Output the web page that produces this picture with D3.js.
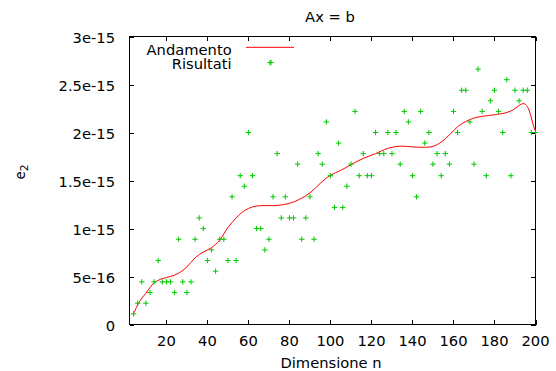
<!DOCTYPE html>
<html><head><meta charset="utf-8">
<script src="https://cdn.jsdelivr.net/npm/d3@7"></script>
<style>
body{margin:0;background:#fff}
svg{display:block}
text{font-family:"DejaVu Sans",sans-serif;fill:#000}
</style>
</head><body>
<svg id="c" width="556" height="371"></svg>
<script>
// ---- data (errors in units of 1e-15) ----
const nValues = [4,6,8,10,12,14,16,18,20,22,24,26,28,30,32,34,36,38,40,42,44,46,48,50,52,54,56,58,60,62,64,66,68,70,71,72,74,76,78,80,82,84,86,88,90,92,94,96,98,100,102,104,106,108,110,112,114,116,118,120,122,124,126,128,130,132,134,136,138,140,142,144,146,148,150,152,154,156,158,160,162,164,166,168,170,172,174,176,178,180,182,184,186,188,190,192,194,196,198,200];
const eValues = [0.111,0.222,0.444,0.222,0.333,0.444,0.666,0.444,0.444,0.444,0.333,0.888,0.444,0.333,0.444,0.888,1.11,0.999,0.666,0.777,0.555,0.888,0.888,0.666,1.33,0.666,1.55,1.44,2.0,1.55,0.999,0.999,0.777,0.888,2.73,1.33,1.78,1.11,1.33,1.11,1.11,1.67,0.888,1.11,1.33,0.888,1.78,1.67,2.11,1.55,1.22,1.89,1.22,1.44,1.67,2.22,1.55,1.78,1.55,1.55,2.0,1.78,1.78,2.0,1.78,2.0,1.67,2.22,2.11,1.55,1.33,2.22,1.89,2.0,1.67,1.78,1.55,1.78,1.67,2.22,2.0,2.44,2.44,2.11,1.67,2.66,2.22,1.55,2.33,2.44,2.22,2.0,2.55,1.55,2.44,2.33,2.44,2.44,2.0,2.0];
const trendN = [4,6,8,10,12,14,18,22,26,30,34,38,42,46,50,54,58,62,66,70,74,80,85,90,95,100,105,110,116,122,128,134,140,146,150,154,158,162,166,170,174,180,186,189,191,193,194.5,196,197.5,199,200];
const trendE = [0.112,0.205,0.275,0.325,0.385,0.435,0.478,0.50,0.535,0.60,0.695,0.755,0.80,0.88,1.01,1.11,1.185,1.225,1.238,1.238,1.240,1.262,1.305,1.37,1.47,1.555,1.605,1.665,1.73,1.78,1.835,1.858,1.85,1.846,1.855,1.90,1.975,2.06,2.115,2.15,2.168,2.185,2.208,2.235,2.265,2.295,2.30,2.27,2.19,2.07,2.01];
const xTicks = [20,40,60,80,100,120,140,160,180,200];
const yTicks = [0,0.5,1,1.5,2,2.5,3];
const yTickLabels = ["0","5e-16","1e-15","1.5e-15","2e-15","2.5e-15","3e-15"];
const titleText = "Ax = b";
const xTitle = "Dimensione n";
const legendLabels = ["Andamento","Risultati"];

// ---- layout ----
const L=129.5, R=535.5, T=36.5, B=324.5;
const x = d3.scaleLinear().domain([2,200]).range([L,R]);
const y = d3.scaleLinear().domain([0,3]).range([B,T]);
const svg = d3.select("#c");
const FS = 13.5, SX = 1.09;
const RED = "#ff0000", GREEN = "#00c800";

function label(px, py, str, anchor){
  const g = svg.append("g").attr("transform", `translate(${px},${py}) scale(${SX},1)`);
  return g.append("text").attr("text-anchor", anchor).style("font-size", FS+"px").text(str);
}

// axes ticks (inward, mirrored)
const TK = 4.5;
function styleAxis(g){ g.select(".domain").remove(); g.selectAll("line").attr("stroke","#000").attr("shape-rendering","crispEdges"); g.selectAll("text").remove(); }
svg.append("g").attr("transform",`translate(0,${B})`).call(d3.axisBottom(x).tickValues(xTicks).tickSize(-TK)).call(styleAxis);
svg.append("g").attr("transform",`translate(0,${T})`).call(d3.axisTop(x).tickValues(xTicks).tickSize(-TK)).call(styleAxis);
svg.append("g").attr("transform",`translate(${L},0)`).call(d3.axisLeft(y).tickValues(yTicks).tickSize(-TK)).call(styleAxis);
svg.append("g").attr("transform",`translate(${R},0)`).call(d3.axisRight(y).tickValues(yTicks).tickSize(-TK)).call(styleAxis);

// border
svg.append("rect").attr("x",L).attr("y",T).attr("width",R-L).attr("height",B-T)
  .attr("fill","none").attr("stroke","#000").attr("stroke-width",1).attr("shape-rendering","crispEdges");

// tick labels
xTicks.forEach(v => label(x(v), 346, String(v), "middle"));
yTicks.forEach((v,i) => label(115, y(v)+6.3, yTickLabels[i], "end"));

// titles
label(330, 22, titleText, "middle");
label(331, 368.3, xTitle, "middle");
const yl = svg.append("g").attr("transform","translate(25,172) rotate(-90)")
  .append("text").attr("text-anchor","middle").style("font-size",FS+"px");
yl.append("tspan").text("e");
yl.append("tspan").attr("dy",3).style("font-size","10.8px").text("2");

// trend line
const line = d3.line().x((d,i)=>x(trendN[i])).y((d,i)=>y(trendE[i])).curve(d3.curveCatmullRom.alpha(0.5));
svg.append("path").attr("d", line(trendN)).attr("fill","none").attr("stroke",RED).attr("stroke-width",1);

// points
const cross = "M-2.7,0H2.7M0,-2.7V2.7";
svg.append("g").selectAll("path").data(nValues).join("path")
  .attr("transform",(d,i)=>`translate(${x(d)},${y(eValues[i])})`)
  .attr("d",cross).attr("stroke",GREEN).attr("stroke-width",1).attr("fill","none");

// legend
label(231.7, 55, legendLabels[0], "end");
label(231.7, 69.3, legendLabels[1], "end");
svg.append("line").attr("x1",246).attr("x2",294).attr("y1",47.3).attr("y2",47.3).attr("stroke",RED).attr("stroke-width",1);
svg.append("path").attr("transform","translate(270,62.7)").attr("d",cross).attr("stroke",GREEN).attr("stroke-width",1).attr("fill","none");
</script>
</body></html>
